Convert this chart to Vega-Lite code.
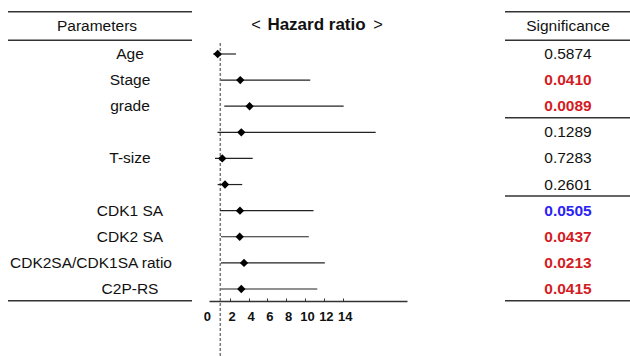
{
  "$schema": "https://vega.github.io/schema/vega-lite/v6.json",
  "autosize": "none",
  "padding": {"left": 0, "top": 0, "right": 0, "bottom": 55},
  "width": 630,
  "height": 301,
  "background": "white",
  "config": {"view": {"stroke": null}, "font": "Liberation Sans"},
  "datasets": {
    "rows": [
      {"row": 1, "label": "Age", "est": 0.72, "lo": 0.25, "hi": 2.67, "p": 0.5874},
      {"row": 2, "label": "Stage", "est": 3.12, "lo": 1.07, "hi": 10.55, "p": 0.0410},
      {"row": 3, "label": "grade", "est": 4.11, "lo": 1.42, "hi": 14.1, "p": 0.0089},
      {"row": 4, "label": "", "est": 3.23, "lo": 0.7, "hi": 17.5, "p": 0.1289},
      {"row": 5, "label": "T-size", "est": 1.21, "lo": 0.44, "hi": 4.44, "p": 0.7283},
      {"row": 6, "label": "", "est": 1.5, "lo": 0.72, "hi": 3.33, "p": 0.2601},
      {"row": 7, "label": "CDK1 SA", "est": 3.09, "lo": 0.97, "hi": 10.9, "p": 0.0505},
      {"row": 8, "label": "CDK2 SA", "est": 3.06, "lo": 1.07, "hi": 10.4, "p": 0.0437},
      {"row": 9, "label": "CDK2SA/CDK1SA ratio", "est": 3.52, "lo": 1.07, "hi": 12.1, "p": 0.0213},
      {"row": 10, "label": "C2P-RS", "est": 3.23, "lo": 1.07, "hi": 11.3, "p": 0.0415}
    ],
    "leftLines": [{"row": -0.62}, {"row": 0.475}, {"row": 10.45}],
    "rightLines": [{"row": -0.62}, {"row": 0.475}, {"row": 3.44}, {"row": 6.44}, {"row": 10.45}],
    "ref": [{"hr": 1, "from": 0.58, "to": 12.6}],
    "headers": [
      {"h": "Parameters", "row": -0.08},
      {"h": "Significance", "row": -0.08},
      {"h": "<", "row": -0.12},
      {"h": "Hazard ratio", "row": -0.12},
      {"h": ">", "row": -0.12}
    ]
  },
  "layer": [
    {
      "data": {"name": "leftLines"},
      "mark": {"type": "rule", "color": "#333", "strokeWidth": 1.5},
      "encoding": {
        "x": {"value": 8}, "x2": {"value": 192},
        "y": {"field": "row", "type": "quantitative", "scale": {"domain": [-1.068, 10.46], "reverse": true, "nice": false, "zero": false}, "axis": null}
      }
    },
    {
      "data": {"name": "rightLines"},
      "mark": {"type": "rule", "color": "#333", "strokeWidth": 1.5},
      "encoding": {
        "x": {"value": 505}, "x2": {"value": 630},
        "y": {"field": "row", "type": "quantitative", "scale": {"domain": [-1.068, 10.46], "reverse": true, "nice": false, "zero": false}, "axis": null}
      }
    },
    {
      "data": {"name": "ref"},
      "mark": {"type": "rule", "color": "#777", "strokeWidth": 1.5, "strokeDash": [3, 2], "clip": false},
      "encoding": {
        "x": {"field": "hr", "type": "quantitative", "scale": {"domain": [-0.2, 20.83], "range": [209, 407], "nice": false, "zero": false}},
        "y": {"field": "from", "type": "quantitative", "scale": {"domain": [-1.068, 10.46], "reverse": true, "nice": false, "zero": false}, "axis": null},
        "y2": {"field": "to"}
      }
    },
    {
      "data": {"name": "rows"},
      "mark": {"type": "rule", "color": "#222", "strokeWidth": 1.2},
      "encoding": {
        "y": {"field": "row", "type": "quantitative", "scale": {"domain": [-1.068, 10.46], "reverse": true, "nice": false, "zero": false}, "axis": null},
        "x": {
          "field": "lo", "type": "quantitative",
          "scale": {"domain": [-0.2, 20.83], "range": [209, 407], "nice": false, "zero": false},
          "axis": {
            "orient": "bottom",
            "values": [0, 2, 4, 6, 8, 10, 12, 14],
            "format": "d",
            "title": null,
            "grid": false,
            "domainColor": "#333",
            "domainWidth": 1.5,
            "tickColor": "#333",
            "tickWidth": 1,
            "tickSize": -3,
            "tickOpacity": {"condition": {"test": "datum.value == 0", "value": 0}, "value": 1},
            "labelOffset": {"condition": {"test": "datum.value == 0", "value": -4}, "value": 2},
            "labelFont": "Liberation Sans",
            "labelFontSize": 13,
            "labelFontWeight": "bold",
            "labelColor": "#111",
            "labelPadding": 12.5
          }
        },
        "x2": {"field": "hi"}
      }
    },
    {
      "data": {"name": "rows"},
      "mark": {"type": "point", "shape": "diamond", "filled": true, "size": 70, "color": "#000", "opacity": 1},
      "encoding": {
        "x": {"field": "est", "type": "quantitative", "scale": {"domain": [-0.2, 20.83], "range": [209, 407], "nice": false, "zero": false}},
        "y": {"field": "row", "type": "quantitative", "scale": {"domain": [-1.068, 10.46], "reverse": true, "nice": false, "zero": false}, "axis": null}
      }
    },
    {
      "data": {"name": "rows"},
      "transform": [{"filter": "length(datum.label) < 12"}],
      "mark": {"type": "text", "font": "Liberation Sans", "fontSize": 15.5, "align": "center", "baseline": "middle", "color": "#111"},
      "encoding": {
        "x": {"value": 130},
        "y": {"field": "row", "type": "quantitative", "scale": {"domain": [-1.068, 10.46], "reverse": true, "nice": false, "zero": false}, "axis": null},
        "text": {"field": "label"}
      }
    },
    {
      "data": {"name": "rows"},
      "transform": [{"filter": "length(datum.label) >= 12"}],
      "mark": {"type": "text", "font": "Liberation Sans", "fontSize": 15.5, "align": "left", "baseline": "middle", "color": "#111"},
      "encoding": {
        "x": {"value": 10},
        "y": {"field": "row", "type": "quantitative", "scale": {"domain": [-1.068, 10.46], "reverse": true, "nice": false, "zero": false}, "axis": null},
        "text": {"field": "label"}
      }
    },
    {
      "data": {"name": "rows"},
      "transform": [{"filter": "datum.p >= 0.1"}],
      "mark": {"type": "text", "font": "Liberation Sans", "fontSize": 15.5, "align": "center", "baseline": "middle", "color": "#111"},
      "encoding": {
        "x": {"value": 568},
        "y": {"field": "row", "type": "quantitative", "scale": {"domain": [-1.068, 10.46], "reverse": true, "nice": false, "zero": false}, "axis": null},
        "text": {"field": "p", "format": ".4f"}
      }
    },
    {
      "data": {"name": "rows"},
      "transform": [{"filter": "datum.p < 0.1"}],
      "mark": {"type": "text", "font": "Liberation Sans", "fontSize": 15.5, "fontWeight": "bold", "align": "center", "baseline": "middle"},
      "encoding": {
        "x": {"value": 568},
        "y": {"field": "row", "type": "quantitative", "scale": {"domain": [-1.068, 10.46], "reverse": true, "nice": false, "zero": false}, "axis": null},
        "text": {"field": "p", "format": ".4f"},
        "color": {"condition": [{"test": "datum.p < 0.05", "value": "#d41c24"}], "value": "#2b22f5"}
      }
    },
    {
      "data": {"name": "headers"},
      "transform": [{"filter": "datum.h == 'Parameters'"}],
      "mark": {"type": "text", "font": "Liberation Sans", "fontSize": 15.5, "align": "center", "baseline": "middle", "color": "#111"},
      "encoding": {
        "x": {"value": 97},
        "y": {"field": "row", "type": "quantitative", "scale": {"domain": [-1.068, 10.46], "reverse": true, "nice": false, "zero": false}, "axis": null},
        "text": {"field": "h"}
      }
    },
    {
      "data": {"name": "headers"},
      "transform": [{"filter": "datum.h == 'Significance'"}],
      "mark": {"type": "text", "font": "Liberation Sans", "fontSize": 15.5, "align": "center", "baseline": "middle", "color": "#111"},
      "encoding": {
        "x": {"value": 568},
        "y": {"field": "row", "type": "quantitative", "scale": {"domain": [-1.068, 10.46], "reverse": true, "nice": false, "zero": false}, "axis": null},
        "text": {"field": "h"}
      }
    },
    {
      "data": {"name": "headers"},
      "transform": [{"filter": "datum.h == '<'"}],
      "mark": {"type": "text", "font": "Liberation Sans", "fontSize": 16.5, "align": "center", "baseline": "middle", "color": "#111"},
      "encoding": {
        "x": {"value": 256},
        "y": {"field": "row", "type": "quantitative", "scale": {"domain": [-1.068, 10.46], "reverse": true, "nice": false, "zero": false}, "axis": null},
        "text": {"field": "h"}
      }
    },
    {
      "data": {"name": "headers"},
      "transform": [{"filter": "datum.h == 'Hazard ratio'"}],
      "mark": {"type": "text", "font": "Liberation Sans", "fontSize": 17, "fontWeight": "bold", "align": "center", "baseline": "middle", "color": "#111"},
      "encoding": {
        "x": {"value": 316.5},
        "y": {"field": "row", "type": "quantitative", "scale": {"domain": [-1.068, 10.46], "reverse": true, "nice": false, "zero": false}, "axis": null},
        "text": {"field": "h"}
      }
    },
    {
      "data": {"name": "headers"},
      "transform": [{"filter": "datum.h == '>'"}],
      "mark": {"type": "text", "font": "Liberation Sans", "fontSize": 16.5, "align": "center", "baseline": "middle", "color": "#111"},
      "encoding": {
        "x": {"value": 378},
        "y": {"field": "row", "type": "quantitative", "scale": {"domain": [-1.068, 10.46], "reverse": true, "nice": false, "zero": false}, "axis": null},
        "text": {"field": "h"}
      }
    }
  ]
}
